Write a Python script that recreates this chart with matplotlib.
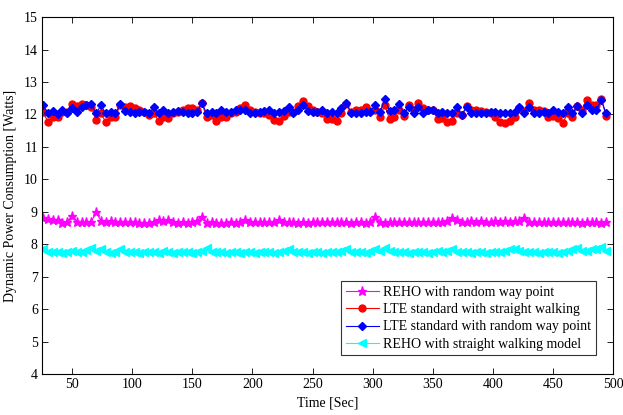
import numpy as np
import matplotlib
matplotlib.use("Agg")
import matplotlib.pyplot as plt

plt.rcParams['font.family'] = ['Liberation Serif', 'DejaVu Serif']
plt.rcParams['mathtext.fontset'] = 'stix'

# time samples (seconds)
time = np.arange(26, 495, 4)

reho_rwp = [
    8.82, 8.77, 8.76, 8.74, 8.66, 8.70, 8.86, 8.70, 8.67, 8.69,
    8.70, 8.98, 8.72, 8.70, 8.71, 8.69, 8.70, 8.68, 8.70, 8.69,
    8.65, 8.66, 8.65, 8.70, 8.74, 8.72, 8.74, 8.70, 8.66, 8.67,
    8.66, 8.68, 8.72, 8.84, 8.66, 8.67, 8.66, 8.65, 8.66, 8.67,
    8.66, 8.70, 8.76, 8.70, 8.68, 8.67, 8.69, 8.68, 8.67, 8.74,
    8.70, 8.68, 8.67, 8.66, 8.67, 8.66, 8.70, 8.70, 8.68, 8.69,
    8.70, 8.68, 8.67, 8.68, 8.66, 8.67, 8.68, 8.66, 8.69, 8.83,
    8.70, 8.66, 8.68, 8.69, 8.70, 8.68, 8.69, 8.67, 8.68, 8.70,
    8.69, 8.68, 8.70, 8.69, 8.72, 8.82, 8.76, 8.70, 8.68, 8.71,
    8.70, 8.72, 8.69, 8.70, 8.71, 8.70, 8.72, 8.70, 8.71, 8.73,
    8.82, 8.70, 8.68, 8.67, 8.69, 8.68, 8.70, 8.67, 8.68, 8.69,
    8.67, 8.68, 8.66, 8.69, 8.67, 8.68, 8.66, 8.67,
]

lte_straight = [
    12.06, 11.77, 11.91, 11.91, 12.08, 12.08, 12.32, 12.26, 12.32, 12.29,
    12.24, 11.83, 12.03, 11.77, 11.91, 11.91, 12.29, 12.24, 12.26, 12.19,
    12.13, 12.08, 11.98, 12.03, 11.80, 11.91, 11.88, 12.03, 12.08, 12.13,
    12.19, 12.19, 12.15, 12.34, 11.91, 11.98, 11.80, 11.93, 11.93, 12.03,
    12.08,
    12.19, 12.29, 12.13, 12.08, 12.03, 12.03, 11.98, 11.83, 11.80, 11.95,
    12.08, 12.08, 12.26, 12.42, 12.26, 12.15, 12.08, 12.03, 11.85, 11.85,
    11.80, 12.03, 12.32, 12.08, 12.13, 12.13, 12.24, 12.11, 12.15, 11.91,
    12.29, 11.85, 11.91, 12.13, 11.95, 12.29, 12.15, 12.36, 12.19, 12.15,
    12.13, 11.85, 11.88, 11.77, 11.80, 12.03, 11.98, 12.26, 12.15, 12.15,
    12.11, 12.08, 12.03, 11.91, 11.77, 11.74, 11.80, 11.93, 12.19, 12.11,
    12.34, 12.15, 12.15, 12.11, 11.93, 11.95, 11.88, 11.74, 12.03, 11.91,
    12.26, 12.13, 12.46, 12.29, 12.29, 12.49, 11.95,
]

lte_rwp = [
    12.29, 12.03, 12.11, 12.01, 12.13, 12.03, 12.19, 12.08, 12.22, 12.28,
    12.32, 12.03, 12.28, 12.03, 12.08, 12.03, 12.31, 12.11, 12.08, 12.03,
    12.08, 12.08, 12.03, 12.22, 12.03, 12.15, 12.03, 12.08, 12.11, 12.08,
    12.05, 12.03, 12.08, 12.34, 12.03, 12.08, 12.03, 12.13, 12.08, 12.08,
    12.13,
    12.13, 12.15, 12.03, 12.03, 12.08, 12.11, 12.13, 12.05, 12.06, 12.11,
    12.24, 12.03, 12.15, 12.29, 12.11, 12.08, 12.06, 12.15, 12.03, 12.08,
    12.03, 12.19, 12.36, 12.03, 12.03, 12.03, 12.06, 12.06, 12.29, 12.06,
    12.49, 12.11, 12.15, 12.32, 12.03, 12.24, 12.03, 12.22, 12.03, 12.13,
    12.13, 12.03, 12.08, 12.03, 12.03, 12.22, 11.98, 12.22, 12.05, 12.03,
    12.03, 12.03, 12.08, 12.06, 12.03, 12.03, 12.03, 12.08, 12.22, 12.03,
    12.22, 12.03, 12.03, 12.08, 12.03, 12.13, 12.08, 12.03, 12.24, 12.03,
    12.26, 12.03, 12.29, 12.13, 12.13, 12.46, 12.03,
]

reho_straight = [
    7.84, 7.76, 7.75, 7.77, 7.74, 7.76, 7.78, 7.75, 7.77, 7.82,
    7.87, 7.78, 7.84, 7.76, 7.74, 7.77, 7.84, 7.76, 7.75, 7.76,
    7.74, 7.76, 7.75, 7.77, 7.74, 7.78, 7.75, 7.74, 7.76, 7.75,
    7.77, 7.74, 7.76, 7.80, 7.89, 7.77, 7.75, 7.76, 7.74, 7.75,
    7.77, 7.74, 7.76, 7.75, 7.74, 7.76, 7.75, 7.77, 7.74, 7.76,
    7.80, 7.86, 7.77, 7.75, 7.76, 7.74, 7.75, 7.77, 7.74, 7.76,
    7.75, 7.77, 7.80, 7.84, 7.76, 7.75, 7.77, 7.74, 7.80, 7.86,
    7.78, 7.88, 7.79, 7.76, 7.75, 7.77, 7.74, 7.76, 7.75, 7.77,
    7.74, 7.76, 7.78, 7.75, 7.80, 7.86, 7.77, 7.75, 7.76, 7.74,
    7.75, 7.77, 7.74, 7.76, 7.75, 7.77, 7.80, 7.84, 7.86, 7.78,
    7.76, 7.75, 7.77, 7.74, 7.76, 7.75, 7.77, 7.74, 7.76, 7.80,
    7.84, 7.87, 7.78, 7.80, 7.84, 7.86, 7.90, 7.80,
]

labels = [
    "REHO with random way point",
    "LTE standard with straight walking",
    "LTE standard with random way point",
    "REHO with straight walking model",
]

fig = plt.figure(figsize=(6.23, 4.15), dpi=100)
ax = fig.add_axes([0.0674, 0.0988, 0.917, 0.860])

ax.plot(time, reho_rwp, color='#ff00ff', marker='*', markersize=6.5, lw=0.8, label=labels[0])
ax.plot(time, lte_straight, color='#ff0000', marker='o', markersize=5, lw=0.8, label=labels[1])
ax.plot(time, lte_rwp, color='#0000ff', marker='D', markersize=4, lw=0.8, label=labels[2])
ax.plot(time, reho_straight, color='#00ffff', marker='<', markersize=5.5, lw=0.8, label=labels[3])

ax.set_xlim(25, 500)
ax.set_ylim(4, 15)
ax.set_xticks(np.arange(50, 501, 50))
ax.set_yticks(np.arange(4, 16, 1))
ax.tick_params(direction='in', top=True, right=True, labelsize=10, length=4, width=0.6, pad=3)
for s in ax.spines.values():
    s.set_linewidth(0.8)

ax.set_xlabel("Time [Sec]", fontsize=10, labelpad=4)
ax.set_ylabel("Dynamic Power Consumption [Watts]", fontsize=10, labelpad=5)

leg = ax.legend(loc='lower right', bbox_to_anchor=(0.97, 0.052), fontsize=10,
                frameon=True, fancybox=False, handlelength=2.4, handletextpad=0.3,
                borderpad=0.35, labelspacing=0.3, borderaxespad=0)
leg.get_frame().set_edgecolor('black')
leg.get_frame().set_linewidth(0.8)

fig.savefig("out.png", dpi=100)
